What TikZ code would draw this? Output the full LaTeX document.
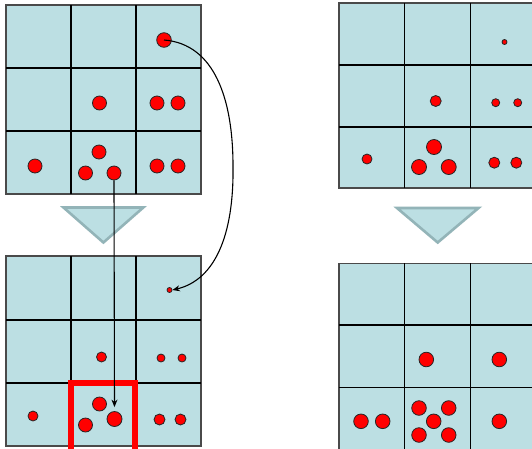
\documentclass[tikz,border=0pt]{standalone}
\usetikzlibrary{arrows.meta}
\definecolor{cellblue}{HTML}{BCDFE3}
\definecolor{triedge}{HTML}{93B4B8}
\definecolor{dotred}{HTML}{FF0000}
\definecolor{gridedge}{HTML}{4A4A4A}
\tikzset{
  reddot/.style={circle, fill=dotred, draw=black!85, line width=0.8pt, inner sep=0pt},
  gridfill/.style={fill=cellblue, draw=gridedge, line width=1.6pt},
  gridline/.style={draw=black, line width=1.4pt},
  downtri/.style={fill=cellblue, draw=triedge, line width=2.6pt, line join=miter},
  conn/.style={draw=black, line width=1.1pt, -{Stealth[length=7.5pt,width=6pt]}},
  selbox/.style={draw=dotred, line width=6.2pt}
}
\begin{document}
\begin{tikzpicture}[x=1pt,y=-1pt]
\useasboundingbox (0,0) rectangle (532,448);
\fill[white] (0,0) rectangle (532,448);
% grids
\path[gridfill] (6,5) rectangle (201,194);
\draw[gridline] (71,5) -- (71,194) (136,5) -- (136,194) (6,68) -- (201,68) (6,131) -- (201,131);
\path[gridfill] (6,256) rectangle (201,446);
\draw[gridline] (71,256) -- (71,446) (136,256) -- (136,446) (6,320) -- (201,320) (6,383) -- (201,383);
\path[gridfill] (339,3) rectangle (537,188);
\draw[gridline] (404.3,3) -- (404.3,188) (470.3,3) -- (470.3,188) (339,65) -- (537,65) (339,127) -- (537,127);
\path[gridfill] (339,263.3) rectangle (537,450);
\draw[gridline] (404.3,263.3) -- (404.3,450) (470.3,263.3) -- (470.3,450) (339,325) -- (537,325) (339,387.3) -- (537,387.3);
% triangles
\path[downtri] (63.5,207.5) -- (143.3,207.5) -- (103.4,242.5) -- cycle;
\path[downtri] (397,208) -- (478.5,208) -- (437.7,242.5) -- cycle;
% red selection box
\draw[selbox] (135.3,455) -- (135.3,382.7) -- (70.7,382.7) -- (70.7,455);
% dots top-left
\foreach \x/\y/\d [count=\i] in {164/40/14.6, 99.5/103/14, 157/103/14, 178/103/14, 35/166/14, 99/152/14, 85.5/173/14, 114/173/14, 157/166/14, 178/166/14}
  \node[reddot, minimum size=\d pt] (tl\i) at (\x,\y) {};
% dots bottom-left
\foreach \x/\y/\d [count=\i] in {169.5/290/5, 101.5/357/10, 161/358/8, 182/358/8, 33/416/10, 99.5/404/14, 85.5/425/14, 114.5/419/15, 159.5/419.5/11, 180.5/419.5/11}
  \node[reddot, minimum size=\d pt] (bl\i) at (\x,\y) {};
% dots top-right
\foreach \x/\y/\d [count=\i] in {504.5/42/5, 435.7/101/11, 495.7/102.7/8, 517.7/102.7/8, 367/159/10, 434/147/15, 419/167/15, 448.7/167/15, 494.3/162.7/11, 516.3/162.7/11}
  \node[reddot, minimum size=\d pt] (tr\i) at (\x,\y) {};
% dots bottom-right
\foreach \x/\y/\d [count=\i] in {426.3/359.5/14.6, 499.3/359.5/14.6, 361/421.3/14.6, 382.7/421.3/14.6, 419/408/14.6, 448.7/408/14.6, 433.7/421.3/14.6, 419/435/14.6, 448.7/435/14.6, 499.3/421.3/14.6}
  \node[reddot, minimum size=\d pt] (br\i) at (\x,\y) {};
% connectors
\coordinate (bend) at (233,166);
\draw[conn] (tl1.center) .. controls (215,44) and (233,100) .. (bend) .. controls (234,235) and (215,280) .. (bl1.east);
\draw[conn, shorten >=4pt] (tl8.south) -- (bl8.north);
\end{tikzpicture}
\end{document}
